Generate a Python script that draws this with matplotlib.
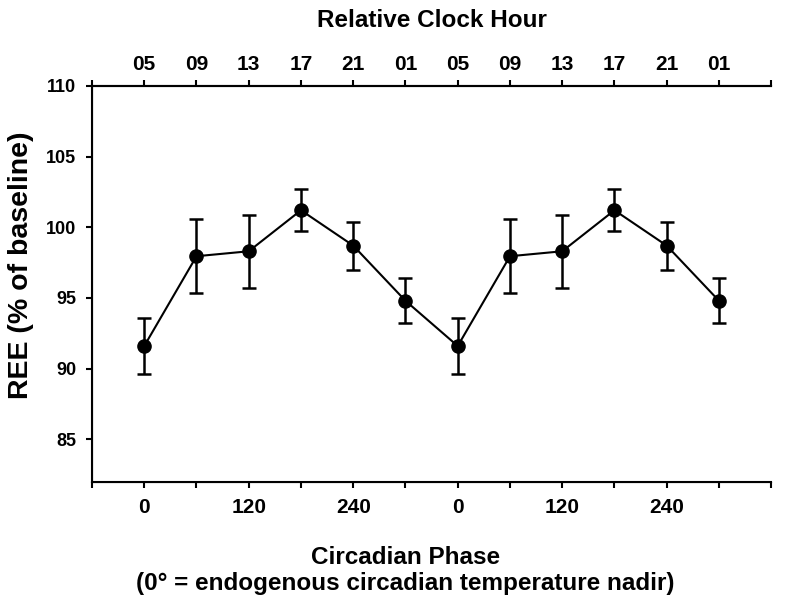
import matplotlib
matplotlib.use("Agg")
import matplotlib.pyplot as plt
import numpy as np

plt.rcParams['font.family'] = ['Liberation Sans', 'DejaVu Sans']
plt.rcParams['font.weight'] = 'bold'

phase_labels = ["0", "60", "120", "180", "240", "300", "0", "60", "120", "180", "240", "300"]
clock_hours = ["05", "09", "13", "17", "21", "01", "05", "09", "13", "17", "21", "01"]
ree = [91.6, 97.95, 98.3, 101.2, 98.7, 94.8, 91.6, 97.95, 98.3, 101.2, 98.7, 94.8]
sem = [2.0, 2.6, 2.6, 1.5, 1.7, 1.6, 2.0, 2.6, 2.6, 1.5, 1.7, 1.6]

x = np.arange(len(ree))

fig = plt.figure(figsize=(8, 6), dpi=100)
ax = fig.add_axes([0.115, 0.197, 0.849, 0.66])

ax.errorbar(x, ree, yerr=sem, color='black', marker='o', markersize=9.5,
            linewidth=1.5, elinewidth=1.8, capsize=5, capthick=1.8)

ax.set_xlim(-1, 12)
ax.set_ylim(82, 110)
ax.set_yticks([85, 90, 95, 100, 105, 110])

ticks = np.arange(-1, 13)
ax.set_xticks(ticks)
bottom_labels = []
for t in ticks:
    if 0 <= t < len(x) and t % 2 == 0:
        bottom_labels.append(phase_labels[t])
    else:
        bottom_labels.append("")
ax.set_xticklabels(bottom_labels)

ax.spines['right'].set_visible(False)
for s in ['left', 'bottom', 'top']:
    ax.spines[s].set_linewidth(1.5)

ax.tick_params(axis='both', direction='out', length=4.5, width=1.5)
ax.tick_params(axis='x', labelsize=15, pad=7)
ax.tick_params(axis='y', labelsize=13, pad=7)
for lab in ax.get_xticklabels() + ax.get_yticklabels():
    lab.set_fontweight('bold')

ax2 = ax.twiny()
ax2.set_xlim(ax.get_xlim())
ax2.set_xticks(ticks)
top_labels = [clock_hours[t] if 0 <= t < len(x) else "" for t in ticks]
ax2.set_xticklabels(top_labels, fontweight='bold')
ax2.tick_params(axis='x', direction='out', length=4.5, width=1.5, labelsize=15, pad=4)
ax2.spines['right'].set_visible(False)
ax2.spines['top'].set_linewidth(1.5)
ax2.set_xlabel("Relative Clock Hour", fontsize=17.5, fontweight='bold', labelpad=20)

ax.set_xlabel("Circadian Phase\n(0\u00b0 = endogenous circadian temperature nadir)",
              fontsize=17.5, fontweight='bold', labelpad=21, linespacing=1.17)
ax.xaxis.set_label_coords(0.461, -0.162)
ax.set_ylabel("REE (% of baseline)", fontsize=20.5, fontweight='bold')
ax.yaxis.set_label_coords(-0.085, 0.547)

fig.savefig("out.png", dpi=100)
